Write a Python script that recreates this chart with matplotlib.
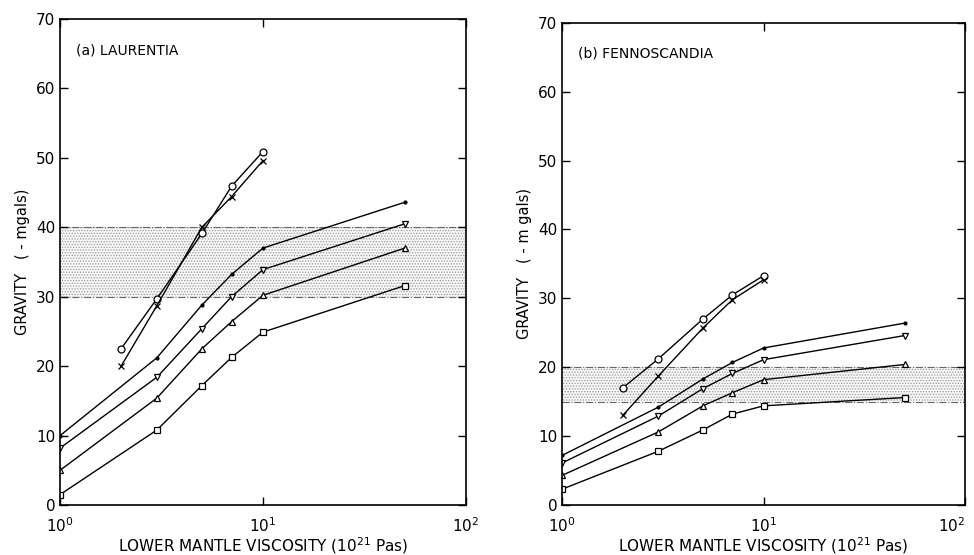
import numpy as np
import matplotlib.pyplot as plt

# viscosity values (10^21 Pa s)
visc = [1, 3, 5, 7, 10, 50]
visc_short = [2, 3, 5, 7, 10]

# (a) Laurentia
lau_circ = [22.5, 29.7, 39.1, 45.9, 50.9]
lau_cross = [20.0, 28.7, 40.0, 44.4, 49.6]
lau_dot = [10.0, 21.2, 28.8, 33.2, 37.0, 43.6]
lau_vtri = [8.2, 18.4, 25.4, 30.0, 33.9, 40.5]
lau_tri = [5.0, 15.4, 22.5, 26.4, 30.2, 37.0]
lau_sq = [1.5, 10.8, 17.2, 21.25, 24.9, 31.6]
lau_band = (30, 40)

# (b) Fennoscandia
fen_circ = [17.0, 21.2, 27.0, 30.5, 33.3]
fen_cross = [13.0, 18.7, 25.7, 29.8, 32.7]
fen_dot = [7.2, 14.2, 18.3, 20.7, 22.8, 26.4]
fen_vtri = [6.1, 12.9, 16.9, 19.1, 21.1, 24.6]
fen_tri = [4.3, 10.6, 14.4, 16.3, 18.2, 20.4]
fen_sq = [2.3, 7.8, 10.9, 13.2, 14.4, 15.6]
fen_band = (15, 20)

plt.rcParams['font.family'] = 'DejaVu Sans'
plt.rcParams['hatch.linewidth'] = 0.6
fig = plt.figure(figsize=(9.74, 5.55), dpi=100)
ax1 = fig.add_axes([0.0616, 0.090, 0.4168, 0.876])
ax2 = fig.add_axes([0.577, 0.090, 0.414, 0.869])

def panel(ax, circ, cross, dot, vtri, tri, sq, band, title, ylabel):
    ax.axhspan(band[0], band[1], facecolor='#f7f7f7', edgecolor='#9a9a9a',
               hatch='......', linewidth=0, zorder=0)
    for yb in band:
        ax.axhline(yb, color='#666666', lw=0.8, ls='-.', zorder=1)
    kw = dict(color='black', lw=1.0, mfc='white', mec='black', mew=0.9, ms=5)
    ax.plot(visc_short, circ, marker='o', **kw)
    ax.plot(visc_short, cross, marker='x', **kw)
    ax.plot(visc, dot, marker='.', color='black', lw=1.0, ms=4)
    ax.plot(visc, vtri, marker='v', **kw)
    ax.plot(visc, tri, marker='^', **kw)
    ax.plot(visc, sq, marker='s', **kw)
    ax.set_xscale('log')
    ax.set_xlim(1, 100)
    ax.set_ylim(0, 70)
    ax.set_yticks(np.arange(0, 71, 10))
    ax.set_xticks([1, 10, 100])
    ax.set_xticklabels(['10$^0$', '10$^1$', '10$^2$'])
    ax.minorticks_off()
    ax.tick_params(direction='in', top=True, right=True, length=6,
                   labelsize=11, width=1.0)
    ax.tick_params(axis='x', pad=8)
    ax.set_xlabel('LOWER MANTLE VISCOSITY (10$^{21}$ Pas)', fontsize=11,
                  labelpad=0)
    ax.set_ylabel(ylabel, fontsize=10.5, labelpad=4)
    ax.text(0.04, 0.95, title, transform=ax.transAxes, fontsize=10,
            va='top', ha='left')
    for s in ax.spines.values():
        s.set_linewidth(1.2)

panel(ax1, lau_circ, lau_cross, lau_dot, lau_vtri, lau_tri, lau_sq,
      lau_band, '(a) LAURENTIA', 'GRAVITY   ( - mgals)')
panel(ax2, fen_circ, fen_cross, fen_dot, fen_vtri, fen_tri, fen_sq,
      fen_band, '(b) FENNOSCANDIA', 'GRAVITY   ( - m gals)')
ax2.get_xticklabels()[-1].set_horizontalalignment('right')

fig.savefig('out.png', dpi=100)
